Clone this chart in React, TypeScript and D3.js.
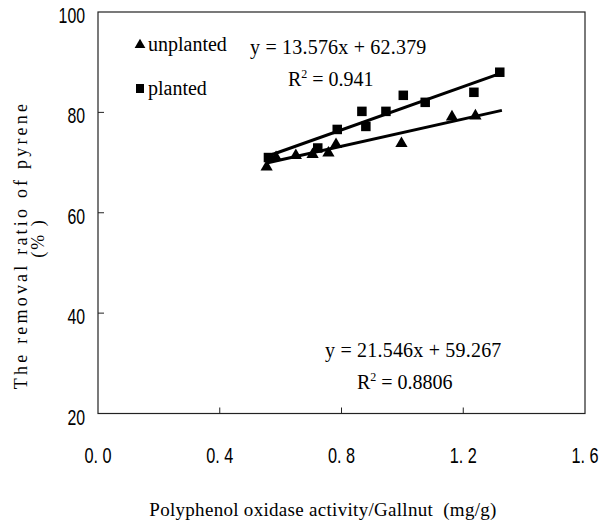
import React, { useEffect, useRef } from "react";
import * as d3 from "d3";

// unplanted (triangles)
const unplantedX = [0.554, 0.585, 0.65, 0.705, 0.757, 0.782, 0.997, 1.163, 1.24];
const unplantedY = [69.1, 71.0, 71.4, 71.6, 71.9, 73.6, 73.8, 79.1, 79.3];
// planted (squares)
const plantedX = [0.56, 0.722, 0.786, 0.867, 0.88, 0.946, 1.003, 1.075, 1.235, 1.32];
const plantedY = [71.0, 72.9, 76.6, 80.2, 77.2, 80.2, 83.4, 82.0, 84.0, 88.0];

// trendlines: slope, intercept, x range
const unplantedFit = { slope: 13.576, intercept: 62.379, r2: "0.941" };
const plantedFit = { slope: 21.546, intercept: 59.267, r2: "0.8806" };
const fitRange = [0.554, 1.327];

const xTicks = [0, 0.4, 0.8, 1.2, 1.6];
const yTicks = [20, 40, 60, 80, 100];

const W = 599;
const H = 525;
const margin = { left: 98, right: 14, top: 12, bottom: 111.5 };

export default function App() {
  const ref = useRef<SVGSVGElement>(null);

  useEffect(() => {
    const svg = d3.select(ref.current);
    svg.selectAll("*").remove();

    const x = d3
      .scaleLinear()
      .domain([0, 1.6])
      .range([margin.left, W - margin.right]);
    const y = d3
      .scaleLinear()
      .domain([20, 100])
      .range([H - margin.bottom, margin.top]);

    // no narrow font installed, so squeeze Liberation Sans horizontally
    const tickFont = "'Liberation Sans', Arial, sans-serif";
    const serif = "'Liberation Serif', 'Times New Roman', serif";

    // frame
    svg
      .append("rect")
      .attr("x", x(0))
      .attr("y", y(100))
      .attr("width", x(1.6) - x(0))
      .attr("height", y(20) - y(100))
      .attr("fill", "none")
      .attr("stroke", "#222")
      .attr("stroke-width", 1.2);

    // x ticks (inward)
    svg
      .selectAll(".xt")
      .data(xTicks.slice(1, -1))
      .enter()
      .append("line")
      .attr("x1", d => x(d))
      .attr("x2", d => x(d))
      .attr("y1", y(20))
      .attr("y2", y(20) - 6)
      .attr("stroke", "#222");

    svg
      .selectAll(".xl")
      .data(xTicks)
      .enter()
      .append("text")
      .attr("transform", d => `translate(${x(d)},463) scale(0.74,1)`)
      .attr("text-anchor", "middle")
      .attr("font-family", tickFont)
      .attr("font-size", 22)
      .text(d => d3.format(".1f")(d).replace(".", ". "))
      .style("white-space", "pre");

    // y ticks (inward)
    svg
      .selectAll(".yt")
      .data(yTicks.slice(1, -1))
      .enter()
      .append("line")
      .attr("x1", x(0))
      .attr("x2", x(0) + 6)
      .attr("y1", d => y(d))
      .attr("y2", d => y(d))
      .attr("stroke", "#222");

    svg
      .selectAll(".yl")
      .data(yTicks)
      .enter()
      .append("text")
      .attr("transform", d => `translate(85,${y(d) + 11}) scale(0.72,1)`)
      .attr("text-anchor", "end")
      .attr("font-family", tickFont)
      .attr("font-size", 22)
      .text(d => d);

    // axis titles
    svg
      .append("text")
      .attr("transform", "translate(27,245) rotate(-90)")
      .attr("text-anchor", "middle")
      .attr("font-family", serif)
      .attr("font-size", 18)
      .attr("letter-spacing", 3.2)
      .text("The removal ratio of pyrene");
    svg
      .append("text")
      .attr("transform", "translate(44,238) rotate(-90)")
      .attr("text-anchor", "middle")
      .attr("font-family", serif)
      .attr("font-size", 18)
      .attr("letter-spacing", 2)
      .text("(% )")
      .style("white-space", "pre");

    svg
      .append("text")
      .attr("x", 323)
      .attr("y", 516)
      .attr("text-anchor", "middle")
      .attr("font-family", serif)
      .attr("font-size", 19)
      .attr("letter-spacing", 0.3)
      .text("Polyphenol oxidase activity/Gallnut  (mg/g)")
      .style("white-space", "pre");

    // trendlines
    const line = d3
      .line<number>()
      .x(d => x(d))
      .y(d => y(d));
    [unplantedFit, plantedFit].forEach(f => {
      svg
        .append("path")
        .attr("d", line.y(d => y(f.slope * d + f.intercept))(fitRange))
        .attr("fill", "none")
        .attr("stroke", "#000")
        .attr("stroke-width", 3);
    });

    // markers
    const tri = d3.symbol().type(d3.symbolTriangle).size(65);
    svg
      .selectAll(".tri")
      .data(unplantedX.map((v, i) => [v, unplantedY[i]]))
      .enter()
      .append("path")
      .attr("d", tri)
      .attr("transform", d => `translate(${x(d[0])},${y(d[1])})`)
      .attr("fill", "#000");

    svg
      .selectAll(".sq")
      .data(plantedX.map((v, i) => [v, plantedY[i]]))
      .enter()
      .append("rect")
      .attr("x", d => x(d[0]) - 4.75)
      .attr("y", d => y(d[1]) - 4.75)
      .attr("width", 9.5)
      .attr("height", 9.5)
      .attr("fill", "#000");

    // legend
    svg
      .append("path")
      .attr("d", d3.symbol().type(d3.symbolTriangle).size(50)())
      .attr("transform", "translate(140,45)")
      .attr("fill", "#000");
    svg
      .append("text")
      .attr("x", 148)
      .attr("y", 51)
      .attr("font-family", serif)
      .attr("font-size", 20)
      .text("unplanted");
    svg
      .append("rect")
      .attr("x", 136)
      .attr("y", 84)
      .attr("width", 8)
      .attr("height", 9)
      .attr("fill", "#000");
    svg
      .append("text")
      .attr("x", 148)
      .attr("y", 95)
      .attr("font-family", serif)
      .attr("font-size", 20)
      .text("planted");

    // equations
    const eq = (f: typeof unplantedFit, ex: number, ey: number, rx: number, ry: number) => {
      svg
        .append("text")
        .attr("x", ex)
        .attr("y", ey)
        .attr("font-family", serif)
        .attr("font-size", 20)
        .attr("letter-spacing", 0.2)
        .text(`y = ${f.slope}x + ${f.intercept}`);
      const r = svg
        .append("text")
        .attr("x", rx)
        .attr("y", ry)
        .attr("font-family", serif)
        .attr("font-size", 20);
      r.append("tspan").text("R");
      r.append("tspan").attr("dy", -8).attr("font-size", 12).text("2");
      r.append("tspan").attr("dy", 8).text(` = ${f.r2}`);
    };
    eq(unplantedFit, 250, 54, 288, 86);
    eq(plantedFit, 325, 357, 357, 389);
  }, []);

  return (
    <div style={{ position: "absolute", left: 0, top: 0 }}>
      <svg ref={ref} width={W} height={H} style={{ display: "block", background: "#fff" }} />
    </div>
  );
}
